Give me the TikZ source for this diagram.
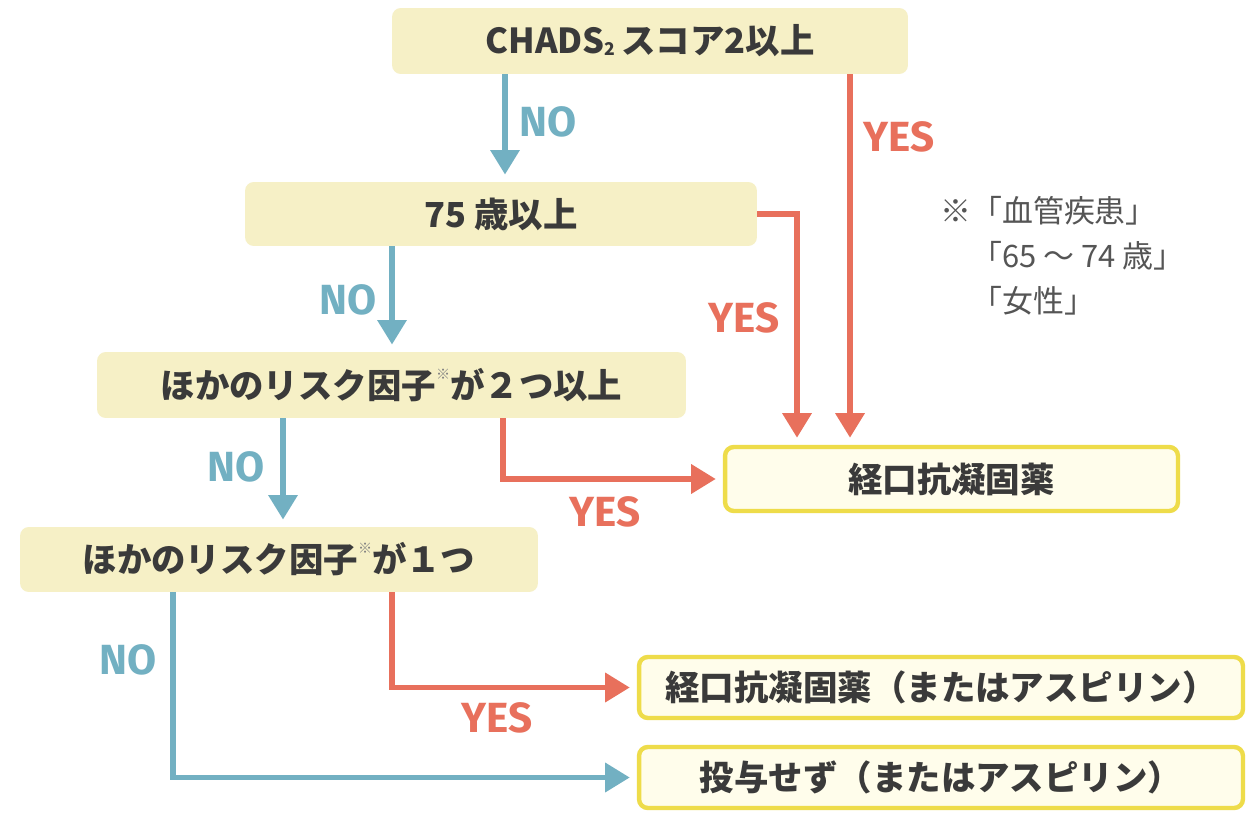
\documentclass[tikz,border=0pt]{standalone}
\usepackage{fontspec}
\newfontfamily\jp{Noto Sans CJK JP}
\newfontfamily\lab{Fira Sans}
\usetikzlibrary{arrows.meta}
\definecolor{boxfill}{HTML}{F6F0C6}
\definecolor{resfill}{HTML}{FFFDEB}
\definecolor{resline}{HTML}{EEDC4A}
\definecolor{txt}{HTML}{3A3A3A}
\definecolor{nob}{HTML}{72B0C2}
\definecolor{yesr}{HTML}{E8705C}
\definecolor{notegray}{HTML}{555555}
\newcommand{\kome}{\raisebox{0.55em}{\fontsize{8pt}{8pt}\selectfont\color{gray}※}}
\begin{document}
\begin{tikzpicture}[x=0.02cm,y=-0.02cm,
  qbox/.style={rectangle, rounded corners=5pt, fill=boxfill, inner sep=0pt,
    font=\jp\bfseries\fontsize{19.6pt}{22pt}\selectfont, text=txt},
  rbox/.style={qbox, fill=resfill, draw=resline, line width=2.5pt},
  noarr/.style={draw=nob, line width=3.4pt, -{Triangle[width=16pt,length=14pt]}, shorten >=4pt},
  yesarr/.style={draw=yesr, line width=3.4pt, -{Triangle[width=16pt,length=14pt]}, shorten >=4pt},
  nolab/.style={font=\lab\bfseries\fontsize{24pt}{26pt}\selectfont, text=nob},
  yeslab/.style={font=\lab\bfseries\fontsize{24pt}{26pt}\selectfont, text=yesr},
  note/.style={font=\jp\fontsize{17.6pt}{25.5pt}\selectfont, text=notegray, align=left, inner sep=0pt}]
\useasboundingbox[fill=white] (0,0) rectangle (1254,814);

% decision boxes
\node[qbox, minimum width=10.32cm, minimum height=1.32cm] (b1) at (650,41)
  {CHADS\raisebox{-0.05em}{\fontsize{10pt}{10pt}\selectfont 2}\,スコア2以上};
\node[qbox, minimum width=10.24cm, minimum height=1.28cm] (b2) at (501,214) {75 歳以上};
\node[qbox, minimum width=11.78cm, minimum height=1.32cm] (b3) at (391.5,385) {ほかのリスク因子\kome が２つ以上};
\node[qbox, minimum width=10.36cm, minimum height=1.30cm] (b4) at (279,559.5) {ほかのリスク因子\kome が１つ};

% result boxes
\node[rbox, minimum width=9.06cm, minimum height=1.28cm] (b5) at (951.5,479) {経口抗凝固薬};
\node[rbox, minimum width=12.08cm, minimum height=1.22cm] (b6) at (941,687.5) {経口抗凝固薬（またはアスピリン）};
\node[rbox, minimum width=12.08cm, minimum height=1.22cm] (b7) at (941,777.5) {投与せず（またはアスピリン）};

% note
\node[note, anchor=north west] (nt) at (940,196) {※「血管疾患」\\\phantom{※}「65 ～ 74 歳」\\\phantom{※}「女性」};

% columns
\coordinate (cA) at (505,0);
\coordinate (cB) at (850,0);
\coordinate (cC) at (797,0);
\coordinate (cD) at (392,0);
\coordinate (cE) at (283,0);
\coordinate (cF) at (503,0);
\coordinate (cG) at (392,0);
\coordinate (cH) at (173,0);

% connectors
\draw[noarr] (b1.south -| cA) -- (b2.north -| cA);
\draw[yesarr] (b1.south -| cB) -- (b5.north -| cB);
\draw[yesarr] (b2.east) -| (b5.north -| cC);
\draw[noarr] (b2.south -| cD) -- (b3.north -| cD);
\draw[yesarr] (b3.south -| cF) |- (b5.west);
\draw[noarr] (b3.south -| cE) -- (b4.north -| cE);
\draw[yesarr] (b4.south -| cG) |- (b6.west);
\draw[noarr] (b4.south -| cH) |- (b7.west);

% labels
\node[nolab] (l1) at (548,122) {NO};
\node[yeslab] (l2) at (899,137) {YES};
\node[yeslab] (l3) at (744,318) {YES};
\node[nolab] (l4) at (348,300) {NO};
\node[yeslab] (l5) at (605,512) {YES};
\node[nolab] (l6) at (236,467) {NO};
\node[yeslab] (l7) at (497,718) {YES};
\node[nolab] (l8) at (128,660) {NO};
\end{tikzpicture}
\end{document}
